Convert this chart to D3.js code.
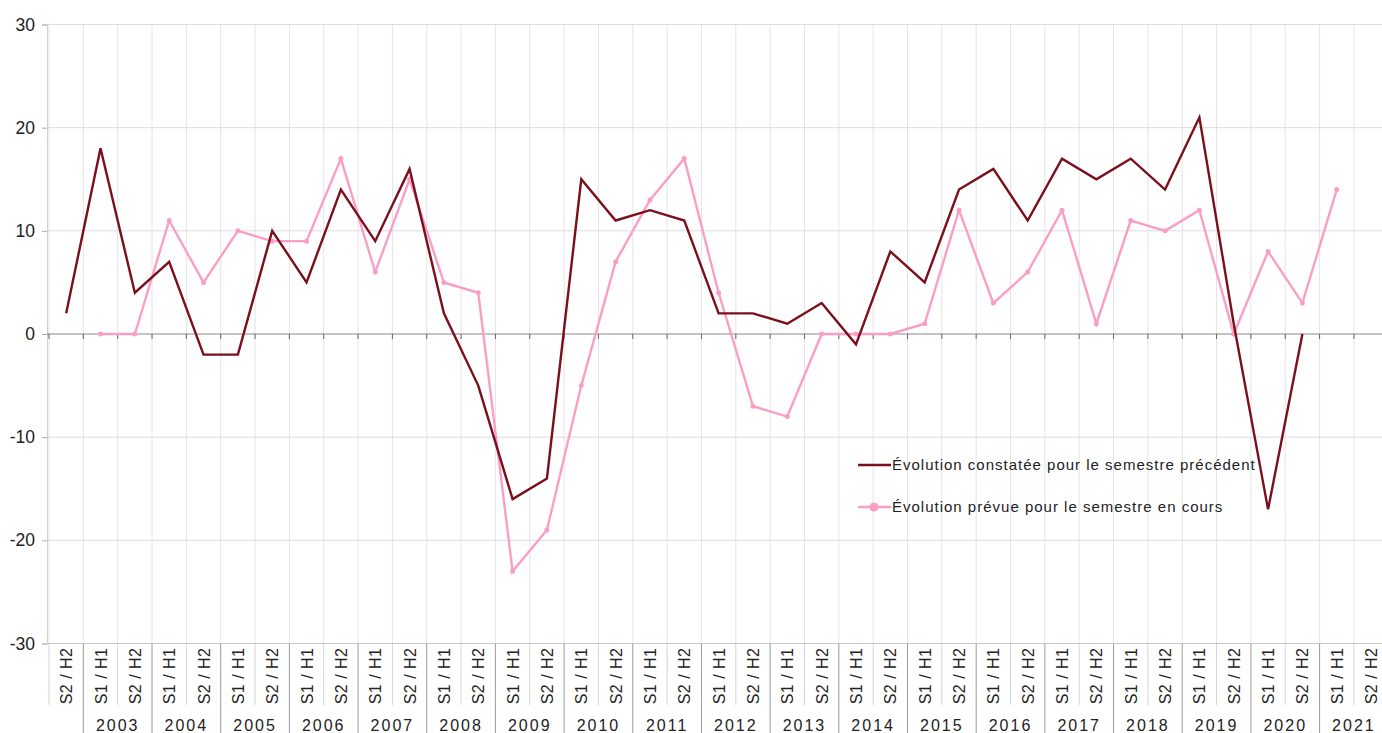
<!DOCTYPE html>
<html>
<head>
<meta charset="utf-8">
<script src="https://cdn.jsdelivr.net/npm/d3@7"></script>
<style>
	body { margin: 0; background: #fff; }
	svg { display: block; font-family: "Liberation Sans", Arial, sans-serif; }
</style>
</head>
<body>
<svg id="chart" width="1382" height="733"></svg>
<script>
// periods shown on the x axis (year + semester)
var periods = ['2002-S2',
	'2003-S1','2003-S2','2004-S1','2004-S2','2005-S1','2005-S2','2006-S1','2006-S2',
	'2007-S1','2007-S2','2008-S1','2008-S2','2009-S1','2009-S2','2010-S1','2010-S2',
	'2011-S1','2011-S2','2012-S1','2012-S2','2013-S1','2013-S2','2014-S1','2014-S2',
	'2015-S1','2015-S2','2016-S1','2016-S2','2017-S1','2017-S2','2018-S1','2018-S2',
	'2019-S1','2019-S2','2020-S1','2020-S2','2021-S1','2021-S2'];
var semLabels = {'S1': 'S1 / H1', 'S2': 'S2 / H2'};
var years = ['2003','2004','2005','2006','2007','2008','2009','2010','2011','2012',
	'2013','2014','2015','2016','2017','2018','2019','2020','2021'];
var yTicks = [-30, -20, -10, 0, 10, 20, 30];

// Évolution constatée pour le semestre précédent
var constatee = [2,
	18, 4, 7, -2, -2, 10, 5, 14,
	9, 16, 2, -5, -16, -14, 15, 11,
	12, 11, 2, 2, 1, 3, -1, 8,
	5, 14, 16, 11, 17, 15, 17, 14,
	21, 1, -17, 0, null, null];
// Évolution prévue pour le semestre en cours
var prevue = [null,
	0, 0, 11, 5, 10, 9, 9, 17,
	6, 15, 5, 4, -23, -19, -5, 7,
	13, 17, 4, -7, -8, 0, 0, 0,
	1, 12, 3, 6, 12, 1, 11, 10,
	12, 0, 8, 3, 14, null];

var series = [
	{name: 'Évolution constatée pour le semestre précédent', values: constatee, color: '#7b0f1c', marker: false},
	{name: 'Évolution prévue pour le semestre en cours', values: prevue, color: '#f99fc6', marker: true}
];

var svg = d3.select('#chart');
var bandW = 34.34;
var x = d3.scaleBand().domain(periods).range([49, 49 + bandW * periods.length]).padding(0);
var y = d3.scaleLinear().domain([-30, 30]).range([643.5, 24.5]);
var plotTop = y(30), plotBottom = y(-30);

// vertical grid at every category boundary
var bounds = periods.map(function(p){ return x(p); });
svg.append('g').selectAll('line').data(bounds).enter().append('line')
	.attr('x1', function(d){ return d; }).attr('x2', function(d){ return d; })
	.attr('y1', plotTop).attr('y2', plotBottom)
	.attr('stroke', '#e4e4e4').attr('stroke-width', 1);

// horizontal grid
svg.append('g').selectAll('line').data(yTicks.filter(function(d){ return d != 0; })).enter().append('line')
	.attr('x1', 47).attr('x2', 1382)
	.attr('y1', function(d){ return y(d); }).attr('y2', function(d){ return y(d); })
	.attr('stroke', '#dcdcdc').attr('stroke-width', 1);

// y axis
var yAxis = svg.append('g').attr('transform', 'translate(47,0)')
	.call(d3.axisLeft(y).tickValues(yTicks).tickSize(5).tickPadding(7)
		.tickFormat(function(d){ return String(d); }));
yAxis.select('.domain').attr('stroke', '#d0d0d0');
yAxis.selectAll('.tick line').attr('stroke', '#aaa');
yAxis.selectAll('.tick text').attr('font-size', 17.5).attr('fill', '#222')
	.attr('font-family', '"Liberation Sans", Arial, sans-serif');

// zero line with ticks
svg.append('line').attr('x1', 47).attr('x2', 1382).attr('y1', y(0)).attr('y2', y(0))
	.attr('stroke', '#8a8a8a').attr('stroke-width', 1.2);
svg.append('g').selectAll('line').data(bounds).enter().append('line')
	.attr('x1', function(d){ return d; }).attr('x2', function(d){ return d; })
	.attr('y1', y(0)).attr('y2', y(0) + 5)
	.attr('stroke', '#666');

// category labels below the plot
var catG = svg.append('g');
catG.selectAll('line').data(periods).enter().append('line')
	.attr('x1', function(d){ return x(d); }).attr('x2', function(d){ return x(d); })
	.attr('y1', plotBottom)
	.attr('y2', function(d){ return d.slice(5) == 'S1' ? 733 : 705; })
	.attr('stroke', function(d){ return d.slice(5) == 'S1' ? '#9a9a9a' : '#d4d4d4'; });
catG.selectAll('text').data(periods).enter().append('text')
	.attr('transform', function(d){
		return 'translate(' + (x(d) + x.bandwidth() / 2 + 6) + ',' + (plotBottom + 4) + ') rotate(-90)';
	})
	.attr('text-anchor', 'end')
	.attr('font-size', 16).attr('letter-spacing', 0.5).attr('fill', '#222')
	.text(function(d){ return semLabels[d.slice(5)]; });

svg.append('line').attr('x1', 47).attr('x2', 1382).attr('y1', plotBottom).attr('y2', plotBottom)
	.attr('stroke', '#c8c8c8');

// year labels, centred under their two semesters
svg.append('g').selectAll('text').data(years).enter().append('text')
	.attr('x', function(d){ return x(d + '-S1') + bandW; })
	.attr('y', 731)
	.attr('text-anchor', 'middle')
	.attr('font-size', 16).attr('letter-spacing', 2).attr('fill', '#222')
	.text(function(d){ return d; });

// lines
var line = d3.line()
	.defined(function(d){ return d.v != null; })
	.x(function(d){ return x(d.p) + x.bandwidth() / 2; })
	.y(function(d){ return y(d.v); });

series.slice().reverse().forEach(function(s){
	var pts = periods.map(function(p, i){ return {p: p, v: s.values[i]}; });
	svg.append('path').datum(pts)
		.attr('d', line)
		.attr('fill', 'none')
		.attr('stroke', s.color)
		.attr('stroke-width', 2.4)
		.attr('stroke-linejoin', 'miter');
	if (s.marker){
		svg.append('g').selectAll('circle').data(pts.filter(function(d){ return d.v != null; }))
			.enter().append('circle')
			.attr('cx', function(d){ return x(d.p) + x.bandwidth() / 2; })
			.attr('cy', function(d){ return y(d.v); })
			.attr('r', 2.5)
			.attr('fill', s.color);
	}
});

// legend
var legend = svg.append('g').attr('transform', 'translate(858,465)');
series.forEach(function(s, i){
	var g = legend.append('g').attr('transform', 'translate(0,' + (i * 42) + ')');
	g.append('line').attr('x1', 0).attr('x2', 33).attr('y1', 0).attr('y2', 0)
		.attr('stroke', s.color).attr('stroke-width', 2.4);
	if (s.marker){
		g.append('circle').attr('cx', 16).attr('cy', 0).attr('r', 4.5).attr('fill', s.color);
	}
	g.append('text').attr('x', 34).attr('y', 5)
		.attr('font-size', 15).attr('letter-spacing', 1).attr('fill', '#222')
		.text(s.name);
});
</script>
</body>
</html>
